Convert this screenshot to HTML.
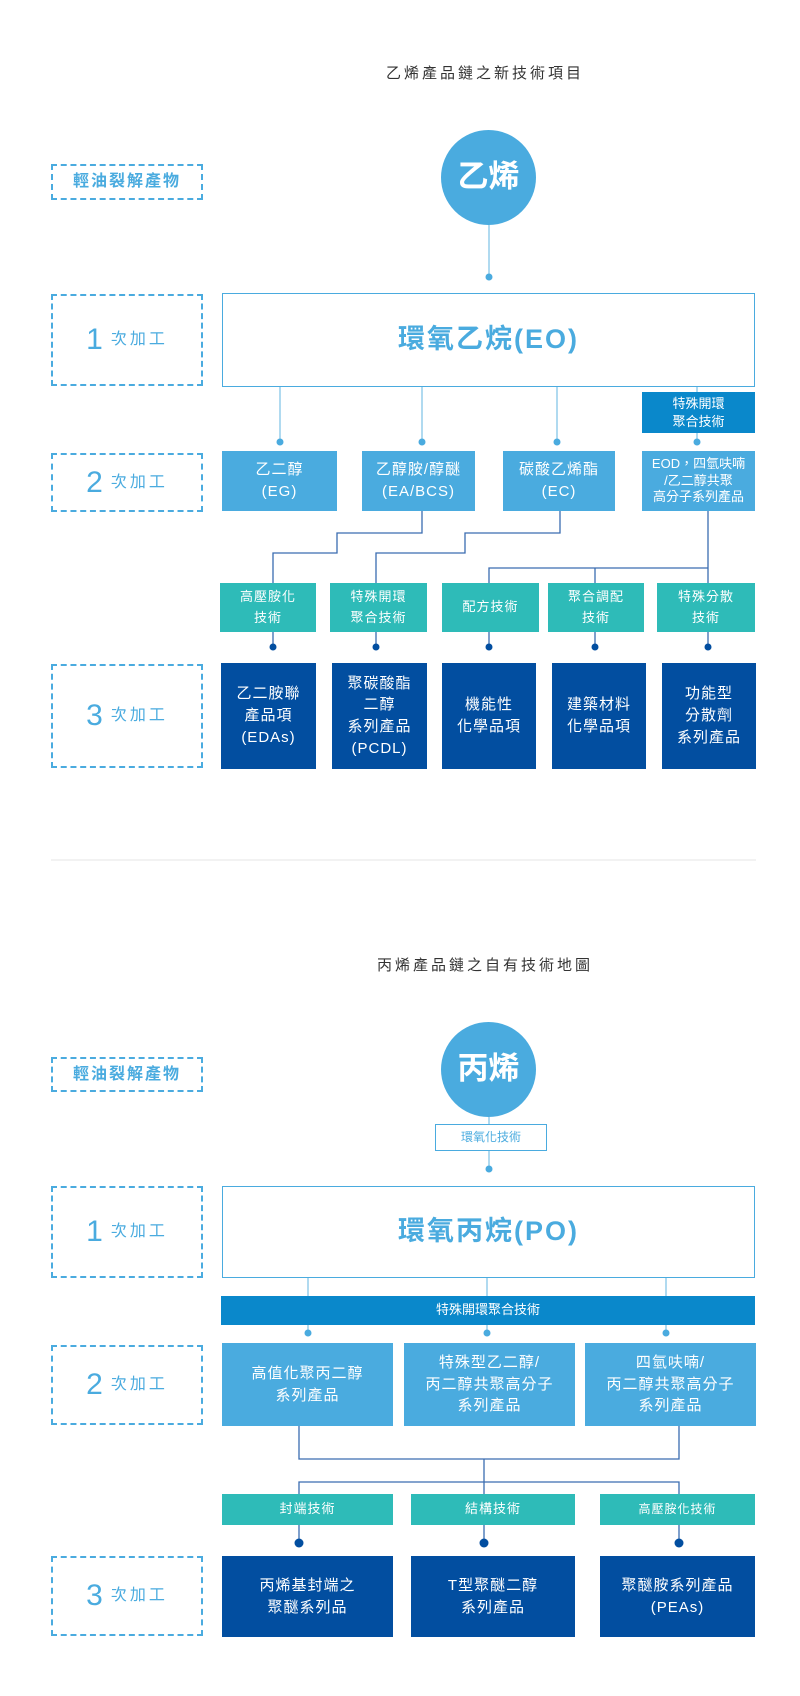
<!DOCTYPE html>
<html><head><meta charset="utf-8"><style>
*{margin:0;padding:0;box-sizing:border-box}
body{width:800px;height:1696px;background:#fff;position:relative;font-family:"Liberation Sans","Noto Sans CJK TC",sans-serif;overflow:hidden}
.a{position:absolute;display:flex;align-items:center;justify-content:center;text-align:center;color:#fff;line-height:1.45}
.lb{border:2px dashed #4aabdf;color:#4aabdf;font-size:16px;letter-spacing:2px;font-weight:bold}
.lb b{font-size:30px;font-weight:normal;margin-right:8px;letter-spacing:0}
.lb span{font-weight:normal;letter-spacing:3px}
.lt{background:#4aabdf;font-size:15px;letter-spacing:1px}
.tl{background:#2ebbb8;font-size:13px;letter-spacing:1px}
.dk{background:#024ea0;font-size:15px;letter-spacing:1px}
.big{border:1px solid #4aabdf;color:#4aabdf;font-size:27px;letter-spacing:2px;font-weight:bold}
.ttl{color:#333;font-size:15px;letter-spacing:3px}
.c{border-radius:50%;background:#4aabdf;font-size:31px;font-weight:bold}
svg{position:absolute;left:0;top:0}
</style></head><body>
<svg width="800" height="1696">
<g stroke="#7cc0e6" stroke-width="1.2" fill="none">
<line x1="489" y1="225" x2="489" y2="277"/>
<line x1="280" y1="387" x2="280" y2="442"/>
<line x1="422" y1="387" x2="422" y2="442"/>
<line x1="557" y1="387" x2="557" y2="442"/>
<line x1="697" y1="387" x2="697" y2="442"/>
<line x1="489" y1="1117" x2="489" y2="1169"/>
<line x1="308" y1="1278" x2="308" y2="1296"/>
<line x1="487" y1="1278" x2="487" y2="1296"/>
<line x1="666" y1="1278" x2="666" y2="1296"/>
<line x1="308" y1="1325" x2="308" y2="1333"/>
<line x1="487" y1="1325" x2="487" y2="1333"/>
<line x1="666" y1="1325" x2="666" y2="1333"/>
</g>
<g fill="#4aabdf">
<circle cx="489" cy="277" r="3.5"/><circle cx="280" cy="442" r="3.5"/><circle cx="422" cy="442" r="3.5"/><circle cx="557" cy="442" r="3.5"/><circle cx="697" cy="442" r="3.5"/>
<circle cx="489" cy="1169" r="3.5"/><circle cx="308" cy="1333" r="3.5"/><circle cx="487" cy="1333" r="3.5"/><circle cx="666" cy="1333" r="3.5"/>
</g>
<g stroke="#3a6cb0" stroke-width="1.3" fill="none">
<polyline points="422,511 422,533 337,533 337,553 273,553 273,583"/>
<polyline points="560,511 560,533 465,533 465,553 376,553 376,583"/>
<polyline points="708,511 708,583"/>
<polyline points="489,583 489,568 708,568"/>
<line x1="595" y1="568" x2="595" y2="583"/>
<line x1="273" y1="632" x2="273" y2="646"/><line x1="376" y1="632" x2="376" y2="646"/><line x1="489" y1="632" x2="489" y2="646"/><line x1="595" y1="632" x2="595" y2="646"/><line x1="708" y1="632" x2="708" y2="646"/>
<polyline points="299,1426 299,1459 679,1459 679,1426"/>
<line x1="484" y1="1459" x2="484" y2="1482"/>
<polyline points="299,1494 299,1482 679,1482 679,1494"/>
<line x1="484" y1="1482" x2="484" y2="1494"/>
<line x1="299" y1="1525" x2="299" y2="1543"/><line x1="484" y1="1525" x2="484" y2="1543"/><line x1="679" y1="1525" x2="679" y2="1543"/>
</g>
<g fill="#024ea0">
<circle cx="273" cy="647" r="3.5"/><circle cx="376" cy="647" r="3.5"/><circle cx="489" cy="647" r="3.5"/><circle cx="595" cy="647" r="3.5"/><circle cx="708" cy="647" r="3.5"/>
<circle cx="299" cy="1543" r="4.5"/><circle cx="484" cy="1543" r="4.5"/><circle cx="679" cy="1543" r="4.5"/>
</g>
<line x1="51" y1="860" x2="756" y2="860" stroke="#e5e5e5" stroke-width="1"/>
</svg>

<div class="a ttl" style="left:370px;top:62px;width:230px;height:24px">乙烯產品鏈之新技術項目</div>
<div class="a lb" style="left:51px;top:164px;width:152px;height:36px">輕油裂解產物</div>
<div class="a c" style="left:441px;top:130px;width:95px;height:95px">乙烯</div>
<div class="a lb" style="left:51px;top:294px;width:152px;height:92px"><b>1</b><span>次加工</span></div>
<div class="a big" style="left:222px;top:293px;width:533px;height:94px">環氧乙烷(EO)</div>
<div class="a" style="left:642px;top:392px;width:113px;height:41px;background:#0a88cb;font-size:13px;line-height:1.35">特殊開環<br>聚合技術</div>
<div class="a lb" style="left:51px;top:453px;width:152px;height:59px"><b>2</b><span>次加工</span></div>
<div class="a lt" style="left:222px;top:451px;width:115px;height:60px">乙二醇<br>(EG)</div>
<div class="a lt" style="left:362px;top:451px;width:113px;height:60px">乙醇胺/醇醚<br>(EA/BCS)</div>
<div class="a lt" style="left:503px;top:451px;width:112px;height:60px">碳酸乙烯酯<br>(EC)</div>
<div class="a lt" style="left:642px;top:451px;width:113px;height:60px;font-size:13px;line-height:1.3;letter-spacing:0">EOD，四氫呋喃<br>/乙二醇共聚<br>高分子系列產品</div>
<div class="a tl" style="left:220px;top:583px;width:96px;height:49px;line-height:1.55">高壓胺化<br>技術</div>
<div class="a tl" style="left:330px;top:583px;width:97px;height:49px;line-height:1.55">特殊開環<br>聚合技術</div>
<div class="a tl" style="left:442px;top:583px;width:97px;height:49px">配方技術</div>
<div class="a tl" style="left:548px;top:583px;width:96px;height:49px;line-height:1.55">聚合調配<br>技術</div>
<div class="a tl" style="left:657px;top:583px;width:98px;height:49px;line-height:1.55">特殊分散<br>技術</div>
<div class="a lb" style="left:51px;top:664px;width:152px;height:104px"><b>3</b><span>次加工</span></div>
<div class="a dk" style="left:221px;top:663px;width:95px;height:106px">乙二胺聯<br>產品項<br>(EDAs)</div>
<div class="a dk" style="left:332px;top:663px;width:95px;height:106px">聚碳酸酯<br>二醇<br>系列產品<br>(PCDL)</div>
<div class="a dk" style="left:442px;top:663px;width:94px;height:106px">機能性<br>化學品項</div>
<div class="a dk" style="left:552px;top:663px;width:94px;height:106px">建築材料<br>化學品項</div>
<div class="a dk" style="left:662px;top:663px;width:94px;height:106px">功能型<br>分散劑<br>系列產品</div>

<div class="a ttl" style="left:360px;top:954px;width:250px;height:24px">丙烯產品鏈之自有技術地圖</div>
<div class="a lb" style="left:51px;top:1057px;width:152px;height:35px">輕油裂解產物</div>
<div class="a c" style="left:441px;top:1022px;width:95px;height:95px">丙烯</div>
<div class="a" style="left:435px;top:1124px;width:112px;height:27px;border:1px solid #4aabdf;color:#4aabdf;font-size:12px;background:#fff">環氧化技術</div>
<div class="a lb" style="left:51px;top:1186px;width:152px;height:92px"><b>1</b><span>次加工</span></div>
<div class="a big" style="left:222px;top:1186px;width:533px;height:92px">環氧丙烷(PO)</div>
<div class="a" style="left:221px;top:1296px;width:534px;height:29px;background:#0a88cb;font-size:13px">特殊開環聚合技術</div>
<div class="a lb" style="left:51px;top:1345px;width:152px;height:80px"><b>2</b><span>次加工</span></div>
<div class="a lt" style="left:222px;top:1343px;width:171px;height:83px">高值化聚丙二醇<br>系列產品</div>
<div class="a lt" style="left:404px;top:1343px;width:171px;height:83px">特殊型乙二醇/<br>丙二醇共聚高分子<br>系列產品</div>
<div class="a lt" style="left:585px;top:1343px;width:171px;height:83px">四氫呋喃/<br>丙二醇共聚高分子<br>系列產品</div>
<div class="a tl" style="left:222px;top:1494px;width:171px;height:31px">封端技術</div>
<div class="a tl" style="left:411px;top:1494px;width:164px;height:31px">結構技術</div>
<div class="a tl" style="left:600px;top:1494px;width:155px;height:31px;font-size:12px">高壓胺化技術</div>
<div class="a lb" style="left:51px;top:1556px;width:152px;height:80px"><b>3</b><span>次加工</span></div>
<div class="a dk" style="left:222px;top:1556px;width:171px;height:81px">丙烯基封端之<br>聚醚系列品</div>
<div class="a dk" style="left:411px;top:1556px;width:164px;height:81px">T型聚醚二醇<br>系列產品</div>
<div class="a dk" style="left:600px;top:1556px;width:155px;height:81px">聚醚胺系列產品<br>(PEAs)</div>
</body></html>
